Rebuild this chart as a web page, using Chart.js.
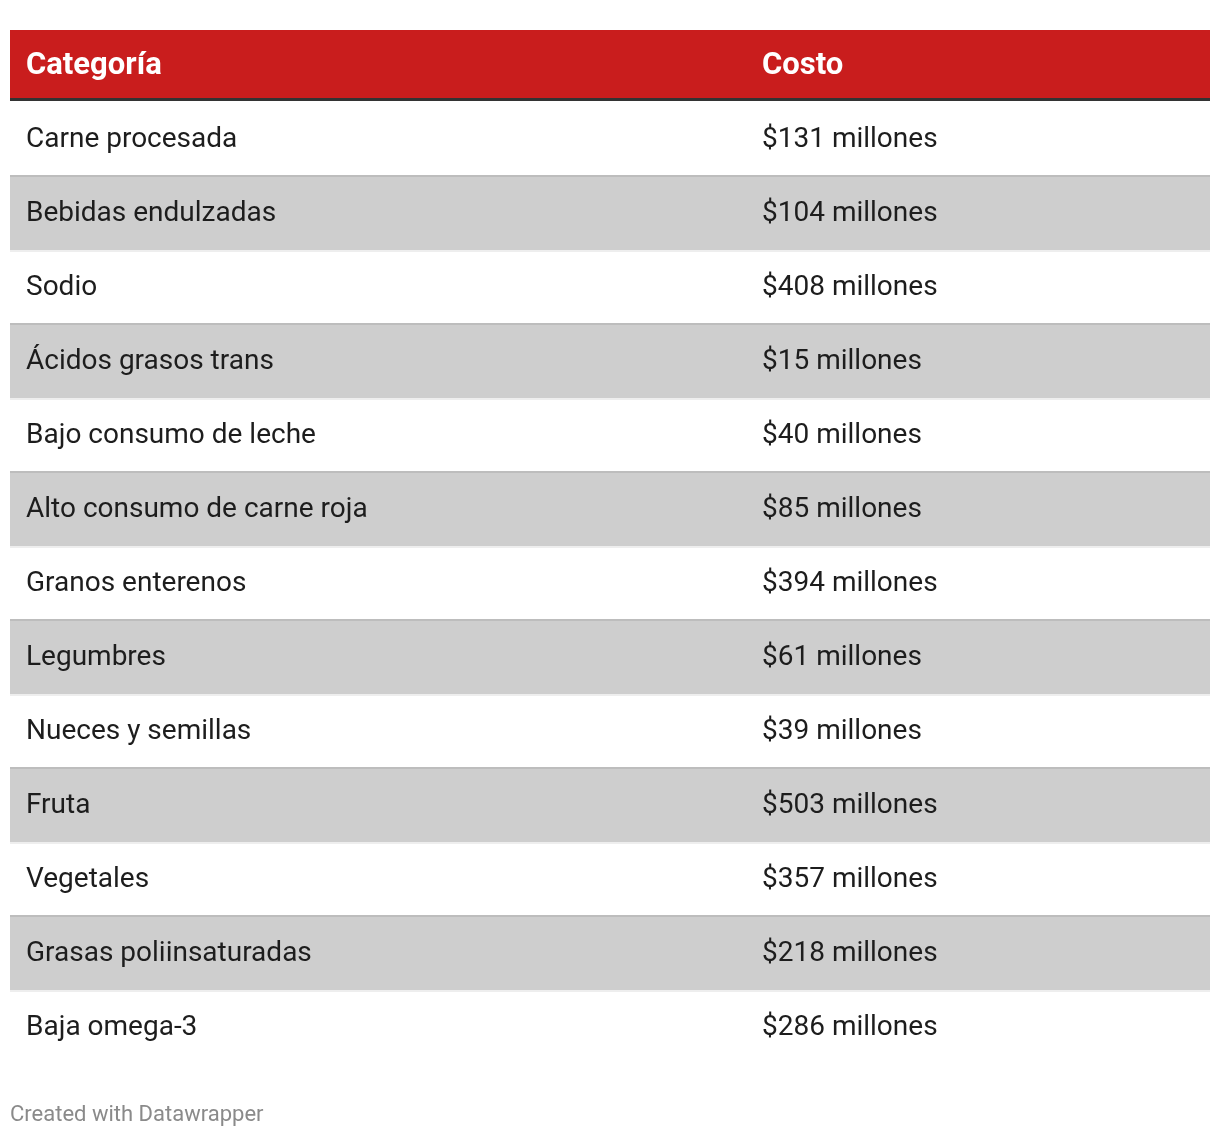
<!DOCTYPE html>
<html>
<head>
<meta charset="utf-8">
<script src="https://cdn.jsdelivr.net/npm/chart.js@4.4.0/dist/chart.umd.min.js"></script>
<style>
  html, body { margin: 0; padding: 0; background: #fff; }
  #wrap { width: 1220px; height: 1138px; position: relative; }
</style>
</head>
<body>
<div id="wrap"><canvas id="tbl"></canvas></div>
<script>
// --- data ---
const headers = ['Categoría', 'Costo'];
const categories = [
  'Carne procesada', 'Bebidas endulzadas', 'Sodio', 'Ácidos grasos trans',
  'Bajo consumo de leche', 'Alto consumo de carne roja', 'Granos enterenos',
  'Legumbres', 'Nueces y semillas', 'Fruta', 'Vegetales',
  'Grasas poliinsaturadas', 'Baja omega-3'
];
const costs = [131, 104, 408, 15, 40, 85, 394, 61, 39, 503, 357, 218, 286];
const footer = 'Created with Datawrapper';

const FONT = 'Roboto, "Noto Sans", sans-serif';
const costText = (v) => `$${v} millones`;

// draws the header, stripes and cell text from the y scale
const tablePlugin = {
  id: 'tablePlugin',
  beforeDatasetsDraw(chart) {
    const { ctx, chartArea: area, scales: { y } } = chart;
    const rowH = y.getPixelForValue(1) - y.getPixelForValue(0);
    ctx.save();
    // header band
    ctx.fillStyle = '#c91d1d';
    ctx.fillRect(area.left, 30, area.right - area.left, area.top - 3 - 30);
    ctx.fillStyle = '#333333';
    ctx.fillRect(area.left, area.top - 3, area.right - area.left, 3);
    // zebra rows
    categories.forEach((c, i) => {
      if (i % 2 === 0) return;
      const top = y.getPixelForValue(i) - rowH / 2;
      ctx.fillStyle = '#cecece';
      ctx.fillRect(area.left, top, area.right - area.left, rowH + 2);
      ctx.fillStyle = '#bdbdbd';
      ctx.fillRect(area.left, top, area.right - area.left, 2);
      ctx.fillStyle = '#eeeeee';
      ctx.fillRect(area.left, top + rowH + 1, area.right - area.left, 2);
    });
    ctx.restore();
  },
  afterDatasetsDraw(chart) {
    const { ctx, chartArea: area, scales: { y } } = chart;
    const col1 = area.left + 16;
    const col2 = area.left + 752;
    ctx.save();
    ctx.textBaseline = 'middle';
    ctx.textAlign = 'left';
    ctx.fillStyle = '#ffffff';
    ctx.font = `bold 31px ${FONT}`;
    const headY = (30 + area.top - 3) / 2 + 2;
    ctx.fillText(headers[0], col1, headY);
    ctx.fillText(headers[1], col2, headY);

    ctx.fillStyle = '#1d1d1d';
    ctx.font = `28px ${FONT}`;
    categories.forEach((c, i) => {
      const py = y.getPixelForValue(i) + 2;
      ctx.fillText(c, col1, py);
      ctx.fillText(costText(costs[i]), col2, py);
    });

    ctx.fillStyle = '#8a8a8a';
    ctx.font = `22px ${FONT}`;
    ctx.fillText(footer, area.left, 1115);
    ctx.restore();
  }
};

new Chart(document.getElementById('tbl'), {
  type: 'bar',
  data: {
    labels: categories,
    datasets: [{ data: costs, backgroundColor: 'rgba(0,0,0,0)', borderWidth: 0 }]
  },
  options: {
    indexAxis: 'y',
    responsive: true,
    maintainAspectRatio: false,
    animation: false,
    layout: { padding: { top: 101, bottom: 75, left: 10, right: 10 } },
    plugins: { legend: { display: false }, tooltip: { enabled: false } },
    scales: {
      x: { display: false, min: 0 },
      y: { display: false, offset: true }
    }
  },
  plugins: [tablePlugin]
});
</script>
</body>
</html>
